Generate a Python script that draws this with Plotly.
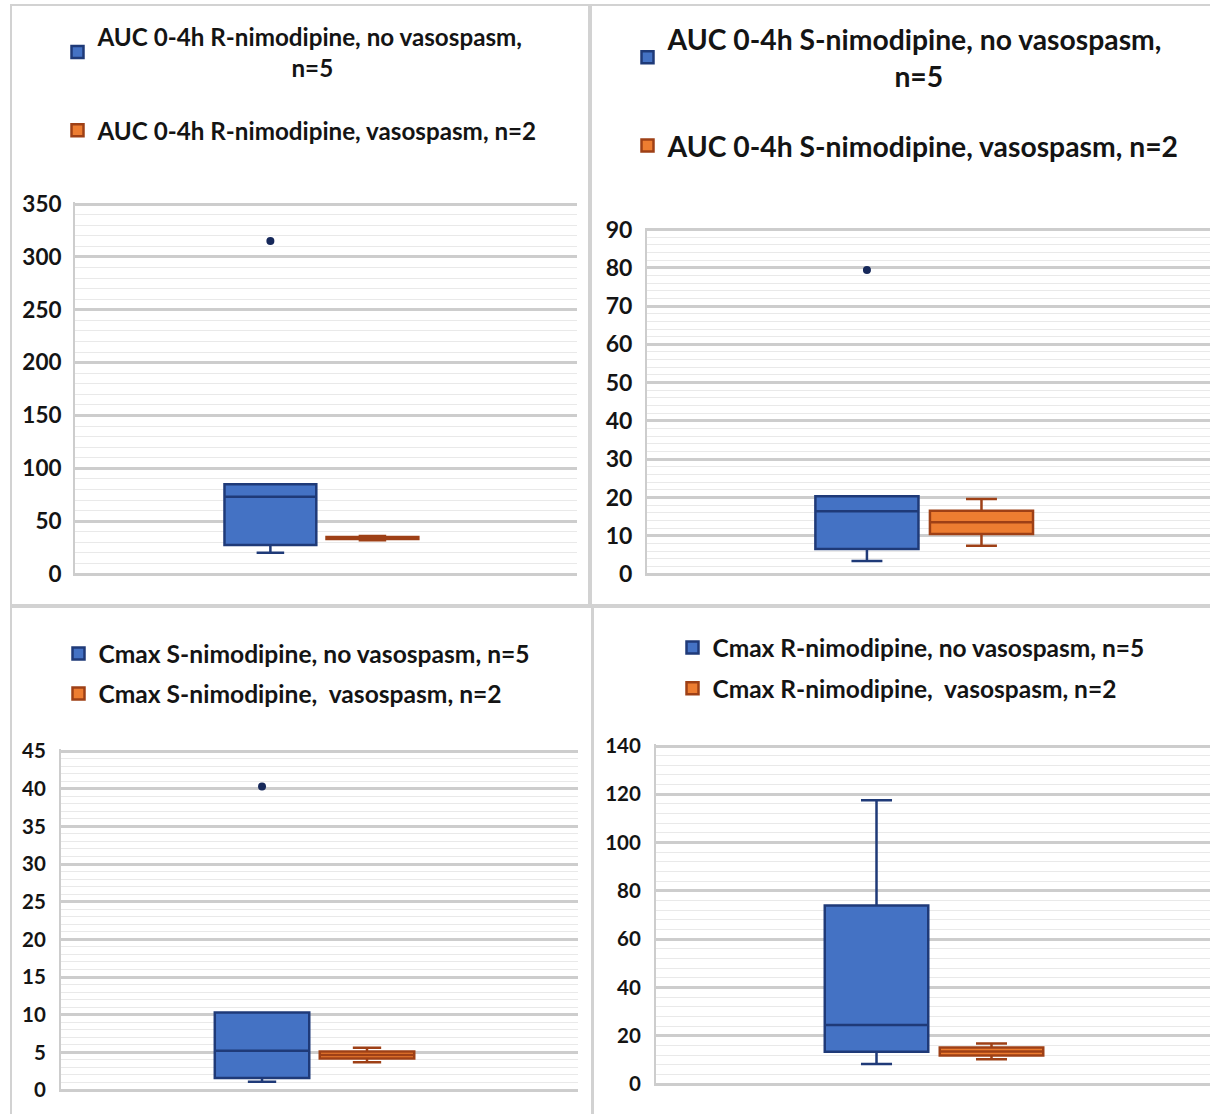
import numpy as np
import plotly.graph_objects as go

W, H = 1210, 1114

# ---- observations per group -------------------------------------------
auc_r_no_vs = [20, 27.5, 73, 85, 315]
auc_r_vs = [32, 36]
auc_s_no_vs = [3.4, 6.5, 16.4, 20.3, 79.4]
auc_s_vs = [7.4, 19.6]
cmax_s_no_vs = [1.1, 1.6, 5.2, 10.3, 40.3]
cmax_s_vs = [3.7, 5.6]
cmax_r_no_vs = [8.3, 13.4, 24.4, 73.9, 117.5]
cmax_r_vs = [10.2, 16.8]

# ---- series names -----------------------------------------------------
NB = "\u00a0"
name_auc_r_no = "AUC 0-4h R-nimodipine, no vasospasm,<br>" + NB * 33 + "n=5"
name_auc_r_vs = "AUC 0-4h R-nimodipine, vasospasm, n=2"
name_auc_s_no = "AUC 0-4h S-nimodipine, no vasospasm,<br>" + NB * 33 + "n=5"
name_auc_s_vs = "AUC 0-4h S-nimodipine, vasospasm, n=2"
name_cmax_s_no = "Cmax S-nimodipine, no vasospasm, n=5"
name_cmax_s_vs = "Cmax S-nimodipine,  vasospasm, n=2"
name_cmax_r_no = "Cmax R-nimodipine, no vasospasm, n=5"
name_cmax_r_vs = "Cmax R-nimodipine,  vasospasm, n=2"

# ---- y axis scales: (max, major step, minor step) ---------------------
scale_auc_r = (350, 50, 10)
scale_auc_s = (90, 10, 2)
scale_cmax_s = (45, 5, 1)
scale_cmax_r = (140, 20, 4)

BLUE_FILL, BLUE_LINE = "#4472C4", "#1F3A78"
ORANGE_FILL, ORANGE_LINE = "#ED7D31", "#9E4016"
GRID, MINOR_GRID = "#CDCDCD", "#E9E9E9"
TEXT = "#141414"
FONT = "Lato"


def px_x(p):
    return p / W


def px_y(p):
    return 1 - p / H


def box_stats(vals):
    """Quartiles by inclusive interpolation; whiskers to the last points within 1.5 IQR."""
    v = np.sort(np.asarray(vals, dtype=float))
    q1, med, q3 = np.percentile(v, [25, 50, 75])
    iqr = q3 - q1
    inside = v[(v >= q1 - 1.5 * iqr) & (v <= q3 + 1.5 * iqr)]
    return dict(q1=[q1], median=[med], q3=[q3],
                lowerfence=[inside.min()], upperfence=[inside.max()])


panels = [
    dict(ax="", cat="AUC R", series=[(name_auc_r_no, auc_r_no_vs), (name_auc_r_vs, auc_r_vs)],
         scale=scale_auc_r, xdom=(75, 577), ydom=(204, 574), xr=(-0.483, 0.501),
         tick=22.5, standoff=7,
         legend=dict(x=300, y=14, size=24.2, gap=28)),
    dict(ax="2", cat="AUC S", series=[(name_auc_s_no, auc_s_no_vs), (name_auc_s_vs, auc_s_vs)],
         scale=scale_auc_s, xdom=(647, 1210), ydom=(229.5, 574), xr=(-0.484, 0.499),
         tick=23, standoff=8,
         legend=dict(x=906, y=14, size=28.3, gap=30)),
    dict(ax="3", cat="Cmax S", series=[(name_cmax_s_no, cmax_s_no_vs), (name_cmax_s_vs, cmax_s_vs)],
         scale=scale_cmax_s, xdom=(61, 578), ydom=(751, 1090), xr=(-0.483, 0.502),
         tick=20.5, standoff=9,
         legend=dict(x=297, y=631, size=24.6, gap=5)),
    dict(ax="4", cat="Cmax R", series=[(name_cmax_r_no, cmax_r_no_vs), (name_cmax_r_vs, cmax_r_vs)],
         scale=scale_cmax_r, xdom=(656, 1210), ydom=(746, 1084), xr=(-0.4835, 0.480),
         tick=20.5, standoff=9,
         legend=dict(x=911, y=625, size=24.5, gap=6)),
]

fig = go.Figure()
layout = dict(
    width=W, height=H, autosize=False,
    margin=dict(l=0, r=0, t=0, b=0, autoexpand=False),
    paper_bgcolor="white", plot_bgcolor="white",
    boxmode="group", boxgap=0.6, boxgroupgap=0.1,
    font=dict(family=FONT, color=TEXT, weight="bold"),
)

EDGE = 2  # px of headroom so the end gridlines are kept

for p in panels:
    xa, ya = "x" + p["ax"], "y" + p["ax"]
    leg = "legend" + p["ax"]
    for k, ((name, vals), fill, line) in enumerate(zip(p["series"], (BLUE_FILL, ORANGE_FILL),
                                                     (BLUE_LINE, ORANGE_LINE))):
        fig.add_trace(go.Box(
            x=[p["cat"]], y=[vals], name=name, **box_stats(vals),
            xaxis=xa, yaxis=ya, legend=leg, legendgroup=f"{leg}-{k}",
            offsetgroup=("no_vasospasm", "vasospasm")[k],
            fillcolor=fill, line=dict(color=line, width=2.5),
            whiskerwidth=0.3, boxpoints="outliers", jitter=0, pointpos=0,
            marker=dict(color="#16285A", size=8, line=dict(width=0)),
            hoverinfo="skip",
        ))
    ymax, major, minor = p["scale"]
    top, bottom = p["ydom"]
    pad = EDGE * ymax / (bottom - top)
    layout["xaxis" + p["ax"]] = dict(
        domain=[px_x(p["xdom"][0]), px_x(p["xdom"][1])], anchor=ya,
        type="category", range=list(p["xr"]), showticklabels=False,
        showgrid=False, zeroline=False, showline=False, ticks="",
    )
    layout["yaxis" + p["ax"]] = dict(
        domain=[px_y(bottom + EDGE), px_y(top - EDGE)], anchor=xa,
        range=[-pad, ymax + pad], dtick=major, tick0=0,
        showgrid=True, gridcolor=GRID, gridwidth=2.5,
        minor=dict(dtick=minor, showgrid=True, gridcolor=MINOR_GRID, gridwidth=1.2),
        zeroline=False, showline=True, linecolor=GRID, linewidth=2,
        ticks="", ticklabelstandoff=p["standoff"],
        tickfont=dict(size=p["tick"], family=FONT, color=TEXT, weight="bold"),
    )
    lg = p["legend"]
    layout[leg] = dict(
        x=px_x(lg["x"]), y=px_y(lg["y"]), xanchor="center", yanchor="top",
        orientation="v", bgcolor="rgba(0,0,0,0)", borderwidth=0,
        font=dict(size=lg["size"], family=FONT, color=TEXT, weight="bold"),
        tracegroupgap=lg["gap"], traceorder="grouped", valign="middle",
    )

# panel frames
frames = [(11, 5, 589, 605), (591, 5, 1214, 605), (11, 607, 592, 1118), (593, 607, 1214, 1118)]
layout["shapes"] = [
    dict(type="rect", xref="paper", yref="paper",
         x0=px_x(a), x1=px_x(c), y0=px_y(d), y1=px_y(b),
         line=dict(color="#D2D2D2", width=2), fillcolor="rgba(0,0,0,0)", layer="below")
    for a, b, c, d in frames
]

fig.update_layout(**layout)
fig.write_html("out.html")
